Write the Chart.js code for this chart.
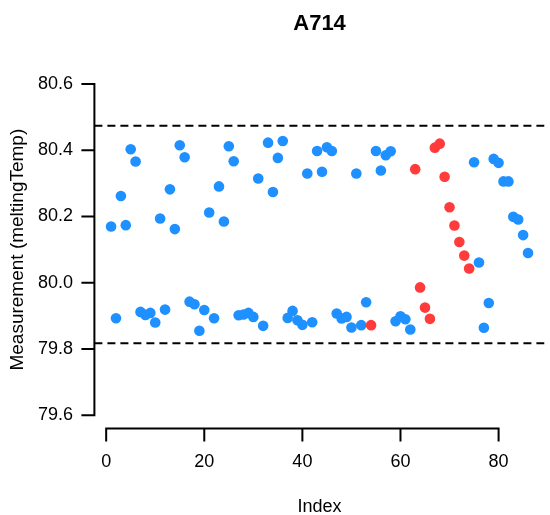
<!DOCTYPE html>
<html>
<head>
<meta charset="utf-8">
<script src="https://cdn.jsdelivr.net/npm/chart.js@4.4.1/dist/chart.umd.min.js"></script>
<style>
  html, body { margin: 0; padding: 0; background: #fff; }
</style>
</head>
<body>
<canvas id="chart" width="550" height="515"></canvas>
<script>
// measurements in run order (index 1..86)
const measurements = [
  80.170, 79.893, 80.262, 80.174, 80.403, 80.366, 79.912, 79.903, 79.909, 79.880,
  80.194, 79.919, 80.282, 80.162, 80.415, 80.379, 79.943, 79.935, 79.855, 79.918,
  80.212, 79.893, 80.291, 80.185, 80.412, 80.367, 79.902, 79.904, 79.909, 79.897,
  80.315, 79.870, 80.423, 80.274, 80.377, 80.428, 79.894, 79.915, 79.887, 79.873,
  80.330, 79.881, 80.398, 80.335, 80.409, 80.398, 79.907, 79.892, 79.897, 79.865,
  80.330, 79.872, 79.941, 79.872, 80.398, 80.339, 80.385, 80.397, 79.884, 79.899,
  79.890, 79.859, 80.343, 79.986, 79.925, 79.891, 80.408, 80.420, 80.320, 80.228,
  80.173, 80.123, 80.082, 80.043, 80.364, 80.061, 79.864, 79.939, 80.374, 80.362,
  80.306, 80.306, 80.199, 80.191, 80.144, 80.090
];
// runs flagged in red
const flagged = [54, 63, 64, 65, 66, 67, 68, 69, 70, 71, 72, 73, 74];
// dashed control limits
const lowerLimit = 79.8175;
const upperLimit = 80.474;

const xTicks = [0, 20, 40, 60, 80];
const yTicks = ['79.6', '79.8', '80.0', '80.2', '80.4', '80.6'];
const xRange = [-2.4, 89.4];
const yRange = [79.56, 80.64];

const bluePts = [];
const redPts = [];
measurements.forEach((v, i) => {
  const idx = i + 1;
  if (flagged.includes(idx)) redPts.push({ x: idx, y: v });
  else bluePts.push({ x: idx, y: v });
});

const FONT = '"Liberation Sans", Arial, sans-serif';

// R-style detached axes, labels and title
const baseAxes = {
  id: 'baseAxes',
  afterDraw(chart) {
    const ctx = chart.ctx;
    const xs = chart.scales.x, ys = chart.scales.y;
    const area = chart.chartArea;
    ctx.save();
    ctx.strokeStyle = '#000';
    ctx.fillStyle = '#000';
    ctx.lineWidth = 2;
    ctx.lineCap = 'square';

    // y axis
    const yTop = ys.getPixelForValue(Number(yTicks[yTicks.length - 1]));
    const yBot = ys.getPixelForValue(Number(yTicks[0]));
    const ax = area.left;
    ctx.beginPath();
    ctx.moveTo(ax, yTop); ctx.lineTo(ax, yBot);
    yTicks.forEach(t => {
      const py = ys.getPixelForValue(Number(t));
      ctx.moveTo(ax, py); ctx.lineTo(ax - 12, py);
    });
    ctx.stroke();
    ctx.font = '18px ' + FONT;
    ctx.textAlign = 'right';
    ctx.textBaseline = 'middle';
    yTicks.forEach(t => {
      ctx.fillText(t, 73, ys.getPixelForValue(Number(t)));
    });

    // x axis
    const ay = area.bottom;
    const xL = xs.getPixelForValue(xTicks[0]);
    const xR = xs.getPixelForValue(xTicks[xTicks.length - 1]);
    ctx.beginPath();
    ctx.moveTo(xL, ay); ctx.lineTo(xR, ay);
    xTicks.forEach(t => {
      const px = xs.getPixelForValue(t);
      ctx.moveTo(px, ay); ctx.lineTo(px, ay + 12);
    });
    ctx.stroke();
    ctx.textAlign = 'center';
    xTicks.forEach(t => {
      ctx.fillText(String(t), xs.getPixelForValue(t), 462);
    });

    // axis titles
    ctx.fillText('Index', (area.left + area.right) / 2, 507);
    ctx.save();
    ctx.translate(18, (area.top + area.bottom) / 2);
    ctx.rotate(-Math.PI / 2);
    ctx.font = '19px ' + FONT;
    ctx.fillText('Measurement (meltingTemp)', 0, 0);
    ctx.restore();

    // main title
    ctx.font = 'bold 22px ' + FONT;
    ctx.fillText('A714', (area.left + area.right) / 2, 24);
    ctx.restore();
  }
};

new Chart(document.getElementById('chart'), {
  type: 'scatter',
  data: {
    datasets: [
      {
        type: 'line',
        data: [{ x: xRange[0], y: upperLimit }, { x: xRange[1], y: upperLimit }],
        borderColor: '#000', borderWidth: 2, borderDash: [8, 5],
        pointRadius: 0, fill: false, order: 3
      },
      {
        type: 'line',
        data: [{ x: xRange[0], y: lowerLimit }, { x: xRange[1], y: lowerLimit }],
        borderColor: '#000', borderWidth: 2, borderDash: [8, 5],
        pointRadius: 0, fill: false, order: 3
      },
      {
        data: bluePts,
        backgroundColor: '#1E90FF', borderWidth: 0,
        pointRadius: 5.3, order: 2
      },
      {
        data: redPts,
        backgroundColor: '#FF3B3B', borderWidth: 0,
        pointRadius: 5.3, order: 1
      }
    ]
  },
  options: {
    responsive: false,
    animation: false,
    devicePixelRatio: 1,
    layout: { padding: { left: 94.4, right: 1.2, top: 70.8, bottom: 86.5 } },
    plugins: { legend: { display: false }, tooltip: { enabled: false } },
    scales: {
      x: { type: 'linear', min: xRange[0], max: xRange[1], display: false },
      y: { type: 'linear', min: yRange[0], max: yRange[1], display: false }
    }
  },
  plugins: [baseAxes]
});
</script>
</body>
</html>
